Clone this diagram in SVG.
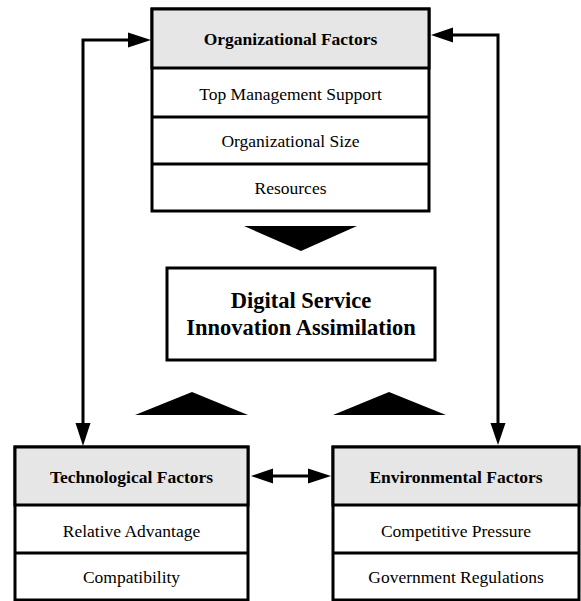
<svg xmlns="http://www.w3.org/2000/svg" width="581" height="601" viewBox="0 0 581 601">
  <style>
    .box { fill: #ffffff; stroke: #000; stroke-width: 3; }
    .head { fill: #e6e6e6; stroke: #000; stroke-width: 3; }
    .sep { stroke: #000; stroke-width: 3; }
    text { font-family: "Liberation Serif", "Times New Roman", "DejaVu Serif", serif; text-anchor: middle; fill: #000; }
    .h { font-size: 17.5px; font-weight: bold; }
    .t { font-size: 17.5px; }
    .big { font-size: 22.5px; font-weight: bold; }
    .line { fill: none; stroke: #000; stroke-width: 3; }
    .block { fill: #000; }
  </style>

  <!-- Organizational factors -->
  <g id="organizational">
    <rect class="box" x="152" y="9" width="277" height="202"/>
    <rect class="head" x="152" y="9" width="277" height="59"/>
    <line class="sep" x1="152" y1="117" x2="429" y2="117"/>
    <line class="sep" x1="152" y1="164" x2="429" y2="164"/>
    <text class="h" x="290.5" y="45" font-family="Liberation Serif, serif">Organizational Factors</text>
    <text class="t" x="290.5" y="100" font-family="Liberation Serif, serif">Top Management Support</text>
    <text class="t" x="290.5" y="147" font-family="Liberation Serif, serif">Organizational Size</text>
    <text class="t" x="290.5" y="194" font-family="Liberation Serif, serif">Resources</text>
  </g>

  <!-- Assimilation outcome -->
  <g id="assimilation">
    <rect class="box" x="167" y="268" width="268" height="92"/>
    <text class="big" x="301" y="308" font-family="Liberation Serif, serif">Digital Service</text>
    <text class="big" x="301" y="335" font-family="Liberation Serif, serif">Innovation Assimilation</text>
  </g>

  <!-- Technological factors -->
  <g id="technological">
    <rect class="box" x="15" y="447" width="233" height="153"/>
    <rect class="head" x="15" y="447" width="233" height="58"/>
    <line class="sep" x1="15" y1="553" x2="248" y2="553"/>
    <text class="h" x="131.5" y="483" font-family="Liberation Serif, serif">Technological Factors</text>
    <text class="t" x="131.5" y="537" font-family="Liberation Serif, serif">Relative Advantage</text>
    <text class="t" x="131.5" y="583" font-family="Liberation Serif, serif">Compatibility</text>
  </g>

  <!-- Environmental factors -->
  <g id="environmental">
    <rect class="box" x="333" y="447" width="246" height="153"/>
    <rect class="head" x="333" y="447" width="246" height="58"/>
    <line class="sep" x1="333" y1="553" x2="579" y2="553"/>
    <text class="h" x="456" y="483" font-family="Liberation Serif, serif">Environmental Factors</text>
    <text class="t" x="456" y="537" font-family="Liberation Serif, serif">Competitive Pressure</text>
    <text class="t" x="456" y="583" font-family="Liberation Serif, serif">Government Regulations</text>
  </g>

  <!-- Connectors -->
  <g id="connectors">
    <!-- block arrows toward the outcome -->
    <polygon class="block" points="244,226 357,226 301,251"/>
    <polygon class="block" points="135,415 248,415 192,392"/>
    <polygon class="block" points="333,415 446,415 389,392"/>

    <!-- organizational <-> technological -->
    <polyline class="line" points="83,423 83,40 128,40"/>
    <polygon class="block" points="128,32.5 151,40 128,47.5"/>
    <polygon class="block" points="75.5,423 90.5,423 83,446"/>

    <!-- organizational <-> environmental -->
    <polyline class="line" points="498,423 498,35 453,35"/>
    <polygon class="block" points="453,27.5 431,35 453,42.5"/>
    <polygon class="block" points="490.5,423 505.5,423 498,445"/>

    <!-- technological <-> environmental -->
    <line class="line" x1="273" y1="476" x2="308" y2="476"/>
    <polygon class="block" points="273,468.5 251,476 273,483.5"/>
    <polygon class="block" points="308,468.5 331,476 308,483.5"/>
  </g>
</svg>
